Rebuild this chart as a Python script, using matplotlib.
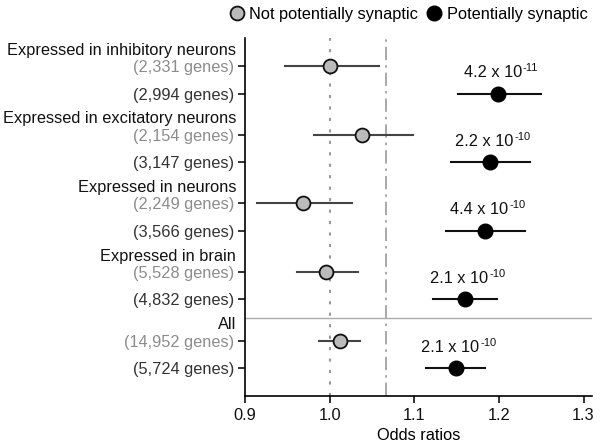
import matplotlib
matplotlib.use("Agg")
import matplotlib.pyplot as plt
from matplotlib.lines import Line2D
from matplotlib.transforms import offset_copy

plt.rcParams['font.family'] = ['Liberation Sans', 'DejaVu Sans']

groups = ["Expressed in inhibitory neurons", "Expressed in excitatory neurons",
          "Expressed in neurons", "Expressed in brain", "All"]
n_not = ["(2,331 genes)", "(2,154 genes)", "(2,249 genes)", "(5,528 genes)", "(14,952 genes)"]
n_syn = ["(2,994 genes)", "(3,147 genes)", "(3,566 genes)", "(4,832 genes)", "(5,724 genes)"]

or_not = [1.000, 1.038, 0.969, 0.996, 1.012]
lo_not = [0.947, 0.981, 0.914, 0.962, 0.987]
hi_not = [1.058, 1.099, 1.027, 1.033, 1.036]

or_syn = [1.199, 1.189, 1.183, 1.160, 1.149]
lo_syn = [1.152, 1.143, 1.138, 1.122, 1.114]
hi_syn = [1.250, 1.237, 1.231, 1.198, 1.184]

pv_mant = ["4.2", "2.2", "4.4", "2.1", "2.1"]
pv_exp = ["-11", "-10", "-10", "-10", "-10"]

ref_line = 1.0
threshold_line = 1.066

FS = 11.8

fig = plt.figure(figsize=(6.01, 4.44), dpi=100)
ax = fig.add_axes([0.4077, 0.108, 0.985 - 0.4077, 0.914 - 0.108])

ypos_not = [0, 2.5, 5, 7.5, 10]
ypos_syn = [1, 3.5, 6, 8.5, 11]

ax.axvline(ref_line, color='#999999', ls=(0, (1.5, 4)), lw=1.5, zorder=1)
ax.axvline(threshold_line, color='#999999', ls=(0, (8, 3, 1.5, 3)), lw=1.2, zorder=1)
ax.axhline(9.16, color='#aaaaaa', lw=1.0, zorder=1)

ax.set_ylim(12.02, -1.02)
ax.set_xlim(0.9, 1.31)

renderer = fig.canvas.get_renderer()
for i in range(len(groups)):
    y0, y1 = ypos_not[i], ypos_syn[i]
    ax.plot([lo_not[i], hi_not[i]], [y0, y0], color='#444444', lw=1.5, zorder=2)
    ax.plot(or_not[i], y0, 'o', ms=10, mfc='#bbbbbb', mec='#111111', mew=1.3, zorder=3)
    ax.plot([lo_syn[i], hi_syn[i]], [y1, y1], color='#111111', lw=1.5, zorder=2)
    ax.plot(or_syn[i], y1, 'o', ms=10.5, mfc='black', mec='black', zorder=3)
    base = ax.text(or_syn[i], y1 - 0.6, f"{pv_mant[i]} x 10", ha='left', va='baseline',
                   fontsize=FS, color='#111111')
    ex = ax.text(or_syn[i], y1 - 0.6, pv_exp[i], ha='left', va='baseline',
                 fontsize=FS * 0.68, color='#111111')
    wb = base.get_window_extent(renderer).width
    we = ex.get_window_extent(renderer).width
    tot = wb + we + 1
    base.set_transform(offset_copy(ax.transData, fig=fig, x=-tot / 2 + 3, y=0, units='dots'))
    ex.set_transform(offset_copy(ax.transData, fig=fig, x=-tot / 2 + 3 + wb + 1, y=6, units='dots'))
    ax.text(-0.026, y0 - 0.58, groups[i], transform=ax.get_yaxis_transform(),
            ha='right', va='center', fontsize=FS, color='#111111')

ticks = []
labels = []
colors = []
for i in range(len(groups)):
    ticks += [ypos_not[i], ypos_syn[i]]
    labels += [n_not[i], n_syn[i]]
    colors += ['#8c8c8c', '#333333']
ax.set_yticks(ticks)
ax.set_yticklabels(labels, fontsize=FS)

ax.set_xticks([0.9, 1.0, 1.1, 1.2, 1.3])
ax.set_xticklabels(["0.9", "1.0", "1.1", "1.2", "1.3"], fontsize=FS)
ax.set_xlabel("Odds ratios", fontsize=FS, labelpad=4)

for s in ['top', 'right']:
    ax.spines[s].set_visible(False)
for s in ['left', 'bottom']:
    ax.spines[s].set_linewidth(1.2)
ax.tick_params(axis='both', direction='out', length=5, width=1.2, colors='#111111')
ax.tick_params(axis='y', pad=3)
for t, c in zip(ax.get_yticklabels(), colors):
    t.set_color(c)

handles = [Line2D([], [], marker='o', ls='', ms=10, mfc='#bbbbbb', mec='#111111', mew=1.3),
           Line2D([], [], marker='o', ls='', ms=10.5, mfc='black', mec='black')]
fig.legend(handles, ["Not potentially synaptic", "Potentially synaptic"],
           loc='center', bbox_to_anchor=(0.68, 1 - 14 / 444), ncol=2, frameon=False,
           fontsize=FS, handletextpad=0.35, columnspacing=0.6, handlelength=0.8,
           borderpad=0.1)

fig.savefig("out.png", dpi=100)
